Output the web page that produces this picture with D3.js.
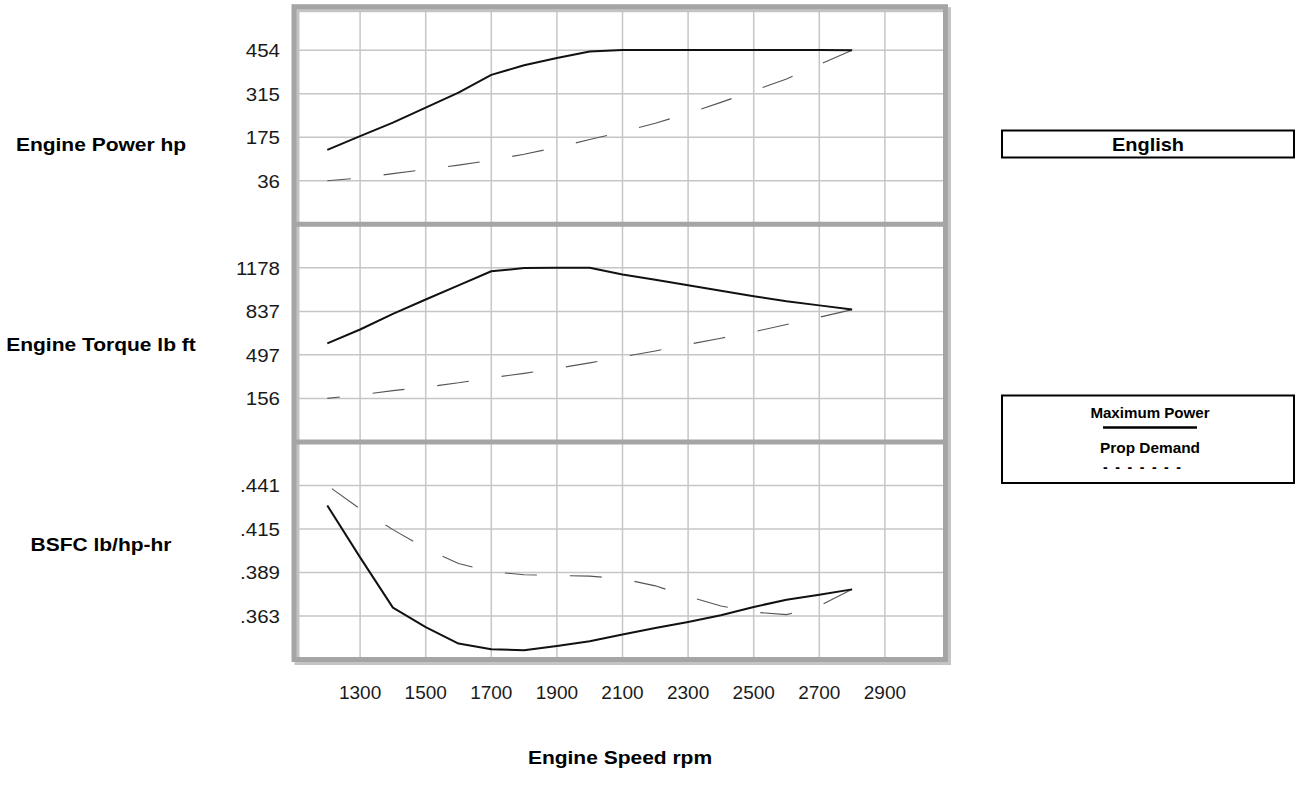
<!DOCTYPE html>
<html>
<head>
<meta charset="utf-8">
<script src="https://cdn.jsdelivr.net/npm/d3@7"></script>
<style>
  body { margin: 0; background: #fff; }
  svg { display: block; font-family: "Liberation Sans", Arial, Helvetica, sans-serif; }
</style>
</head>
<body>
<svg id="chart" width="1299" height="801"></svg>
<script>
// engine speed (rpm) for every data point
const rpm = [1200, 1300, 1400, 1500, 1600, 1700, 1800, 1900, 2000, 2100, 2200, 2300, 2400, 2500, 2600, 2700, 2800];
const speedTicks = [1300, 1500, 1700, 1900, 2100, 2300, 2500, 2700, 2900];

// top panel - engine power hp
const powerTicks = [36, 175, 315, 454];
const powerMax  = [135, 179, 222, 270, 318, 375, 406, 429, 450, 455, 455, 455, 455, 455, 455, 455, 454];
const powerProp = [36, 45, 59, 72, 86, 102, 121, 143, 168, 193, 220, 252, 287, 324, 362, 408, 454];

// middle panel - engine torque lb ft
const torqueTicks = [156, 497, 837, 1178];
const torqueMax  = [586, 695, 818, 930, 1041, 1151, 1176, 1178, 1178, 1125, 1084, 1041, 999, 956, 917, 884, 851];
const torqueProp = [156, 183, 217, 244, 278, 318, 352, 391, 434, 481, 527, 578, 627, 677, 734, 791, 851];

// bottom panel - BSFC lb/hp-hr
const bsfcTicks = [0.363, 0.389, 0.415, 0.441];
const bsfcMax  = [0.429, 0.398, 0.368, 0.3564, 0.3465, 0.3431, 0.3425, 0.3451, 0.3479, 0.3519, 0.3558, 0.3594, 0.3634, 0.3684, 0.3727, 0.3757, 0.3789];
const bsfcProp = [0.441, 0.427, 0.4146, 0.4034, 0.3943, 0.3895, 0.3876, 0.3872, 0.3868, 0.3852, 0.381, 0.3747, 0.369, 0.3653, 0.3638, 0.369, 0.379];

const panelTitles = ["Engine Power hp", "Engine Torque lb ft", "BSFC lb/hp-hr"];
const legendItems = ["Maximum Power", "Prop Demand"];

const panels = [
  { title: panelTitles[0], ticks: powerTicks,  max: powerMax,  prop: powerProp,  fmt: d => d3.format("d")(d) },
  { title: panelTitles[1], ticks: torqueTicks, max: torqueMax, prop: torqueProp, fmt: d => d3.format("d")(d) },
  { title: panelTitles[2], ticks: bsfcTicks,   max: bsfcMax,   prop: bsfcProp,   fmt: d => d3.format(".3f")(d).replace(/^0/, "") }
];

const svg = d3.select("#chart");

const frame = { left: 294, right: 945.5, top: 6.7, bottom: 659.5 };
const panelH = (frame.bottom - frame.top) / 3;

const x = d3.scaleLinear().domain([1100, 3100]).range([294.5, 950.5]);

// text helper - reference fonts are a bit wider than Liberation Sans
function addText(g, px, py, str, { size = 16, weight = "normal", anchor = "middle", sx = 1, fill = "#000" } = {}) {
  return g.append("text")
    .attr("transform", `translate(${px},${py}) scale(${sx},1)`)
    .attr("text-anchor", anchor)
    .attr("font-size", size + "px")
    .attr("font-weight", weight)
    .attr("fill", fill)
    .text(str);
}

const gridG = svg.append("g");
const lineG = svg.append("g");
const frameG = svg.append("g");
const textG = svg.append("g");

// vertical grid lines across all panels
gridG.selectAll("line.v")
  .data(speedTicks)
  .join("line")
  .attr("x1", d => x(d)).attr("x2", d => x(d))
  .attr("y1", frame.top).attr("y2", frame.bottom)
  .attr("stroke", "#c6c6c6")
  .attr("stroke-width", 1.5);

const titleY = [145, 345, 545];

panels.forEach((p, i) => {
  const top = frame.top + i * panelH;
  const bottom = top + panelH;
  const step = (p.ticks[p.ticks.length - 1] - p.ticks[0]) / (p.ticks.length - 1);
  const y = d3.scaleLinear()
    .domain([p.ticks[0] - step, p.ticks[p.ticks.length - 1] + step])
    .range([bottom, top]);

  // horizontal grid
  gridG.selectAll(null)
    .data(p.ticks)
    .join("line")
    .attr("x1", frame.left).attr("x2", frame.right)
    .attr("y1", d => y(d)).attr("y2", d => y(d))
    .attr("stroke", "#c6c6c6")
    .attr("stroke-width", 1.5);

  // y tick labels
  p.ticks.forEach(t => {
    addText(textG, 280, y(t) + 7, p.fmt(t), { size: 19, anchor: "end", sx: 1.08, fill: "#1a1a1a" });
  });

  addText(textG, 101, titleY[i] + 6, p.title, { size: 17.5, weight: "bold", sx: 1.2 });

  const line = d3.line()
    .x((d, k) => x(d.r))
    .y(d => y(d.v));

  const maxData = rpm.map((r, k) => ({ r, v: p.max[k] }));
  const propData = rpm.map((r, k) => ({ r, v: p.prop[k] })).reverse(); // dashes start at the high-speed end

  lineG.append("path")
    .datum(propData)
    .attr("d", line)
    .attr("fill", "none")
    .attr("stroke", "#555")
    .attr("stroke-width", 1.1)
    .attr("stroke-dasharray", "32,33");

  lineG.append("path")
    .datum(maxData)
    .attr("d", line)
    .attr("fill", "none")
    .attr("stroke", "#111")
    .attr("stroke-width", 2)
    .attr("stroke-linejoin", "round");
});

// frame with a light drop shadow
frameG.append("rect")
  .attr("x", frame.left + 3).attr("y", frame.top + 3)
  .attr("width", frame.right - frame.left).attr("height", frame.bottom - frame.top)
  .attr("fill", "none")
  .attr("stroke", "#c4c4c4")
  .attr("stroke-width", 5);
frameG.append("rect")
  .attr("x", frame.left).attr("y", frame.top)
  .attr("width", frame.right - frame.left).attr("height", frame.bottom - frame.top)
  .attr("fill", "none")
  .attr("stroke", "#a5a5a5")
  .attr("stroke-width", 5);
[1, 2].forEach(i => {
  frameG.append("line")
    .attr("x1", frame.left).attr("x2", frame.right)
    .attr("y1", frame.top + i * panelH).attr("y2", frame.top + i * panelH)
    .attr("stroke", "#a5a5a5")
    .attr("stroke-width", 5);
});

// x tick labels
speedTicks.forEach(t => {
  addText(textG, x(t), 699, d3.format("d")(t), { size: 19, sx: 1.0, fill: "#1a1a1a" });
});
addText(textG, 620, 764, "Engine Speed rpm", { size: 17.5, weight: "bold", sx: 1.2 });

// units box
const boxG = svg.append("g");
boxG.append("rect")
  .attr("x", 1002).attr("y", 130.5)
  .attr("width", 1294 - 1002).attr("height", 27)
  .attr("fill", "#fff").attr("stroke", "#000").attr("stroke-width", 2);
addText(boxG, 1148, 150.5, "English", { size: 19, weight: "bold", sx: 1.05 });

// legend box
boxG.append("rect")
  .attr("x", 1002).attr("y", 395.5)
  .attr("width", 1294 - 1002).attr("height", 87.5)
  .attr("fill", "#fff").attr("stroke", "#000").attr("stroke-width", 2);
addText(boxG, 1150, 418, legendItems[0], { size: 14, weight: "bold", sx: 1.08 });
boxG.append("line")
  .attr("x1", 1103).attr("x2", 1197)
  .attr("y1", 427.5).attr("y2", 427.5)
  .attr("stroke", "#000").attr("stroke-width", 2.5);
addText(boxG, 1150, 453, legendItems[1], { size: 14, weight: "bold", sx: 1.1 });
boxG.append("text")
  .attr("x", 1103).attr("y", 472)
  .attr("font-size", "14px").attr("font-weight", "bold")
  .attr("textLength", 78).attr("lengthAdjust", "spacing")
  .text("- - - - - - -");
</script>
</body>
</html>
